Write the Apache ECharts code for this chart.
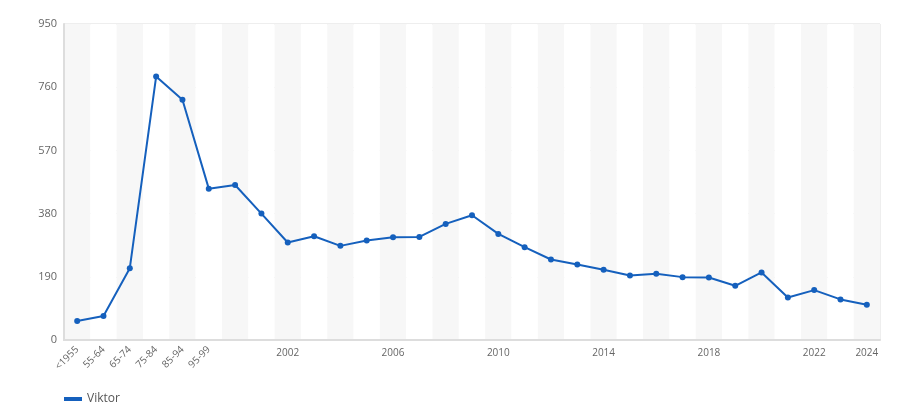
<!DOCTYPE html>
<html lang="en">
<head>
  <meta charset="UTF-8">
  <script src="https://cdn.jsdelivr.net/npm/echarts/dist/echarts.min.js"></script>
  <style>
    html, body { margin: 0; padding: 0; background: #fff; }
    #chart { width: 900px; height: 420px; }
  </style>
</head>
<body>
  <div id="chart"></div>
  <script>
    const categories = ['<1955', '55-64', '65-74', '75-84', '85-94', '95-99',
      '2000', '2001', '2002', '2003', '2004', '2005', '2006', '2007', '2008', '2009',
      '2010', '2011', '2012', '2013', '2014', '2015', '2016', '2017', '2018', '2019',
      '2020', '2021', '2022', '2023', '2024'];
    const viktor = [57, 72, 216, 792, 722, 455, 466, 380, 293, 312, 283, 299, 309, 310, 349, 375,
      319, 279, 242, 227, 211, 194, 199, 189, 188, 163, 203, 128, 150, 122, 106];
    const yTicks = [0, 190, 380, 570, 760, 950];
    // which categories get a label: the ranges rotated, the years level
    const rangeLabels = [0, 1, 2, 3, 4, 5];
    const yearLabels = [8, 12, 16, 20, 24, 28, 30];

    const chart = echarts.init(document.getElementById('chart'));
    const font = '"Open Sans", "Noto Sans", sans-serif';
    const baseX = {
      type: 'category',
      data: categories,
      boundaryGap: true,
      position: 'bottom',
      axisTick: { show: false }
    };
    chart.setOption({
      animation: false,
      textStyle: { fontFamily: font },
      grid: { left: 64, right: 20, top: 24, bottom: 80, show: true, borderColor: '#dddddd', borderWidth: 1 },
      legend: {
        left: 64, top: 393, padding: 0, icon: 'rect', itemWidth: 18, itemHeight: 4, itemGap: 10,
        textStyle: { color: '#555', fontSize: 12, fontFamily: font },
        data: ['Viktor']
      },
      xAxis: [
        Object.assign({}, baseX, {
          axisLine: { show: true, lineStyle: { color: '#dddddd', width: 2 } },
          axisLabel: {
            interval: (i) => rangeLabels.includes(i),
            rotate: 45, color: '#666', fontSize: 10, margin: 8
          },
          splitArea: { show: true, interval: 0, areaStyle: { color: ['#f7f7f7', '#ffffff'] } }
        }),
        Object.assign({}, baseX, {
          axisLine: { show: false },
          axisLabel: {
            interval: (i) => yearLabels.includes(i),
            color: '#666', fontSize: 10, margin: 8
          },
          splitArea: { show: false }
        })
      ],
      yAxis: {
        type: 'value',
        min: yTicks[0],
        max: yTicks[yTicks.length - 1],
        interval: yTicks[1] - yTicks[0],
        axisLine: { show: true, lineStyle: { color: '#dddddd', width: 2 } },
        axisTick: { show: false },
        axisLabel: { color: '#666', fontSize: 11, margin: 7 },
        splitLine: { lineStyle: { color: '#e6e6e6' } }
      },
      series: [{
        name: 'Viktor',
        type: 'line',
        data: viktor,
        symbol: 'circle',
        symbolSize: 6,
        itemStyle: { color: '#1560bd' },
        lineStyle: { color: '#1560bd', width: 2 }
      }]
    });
  </script>
</body>
</html>
